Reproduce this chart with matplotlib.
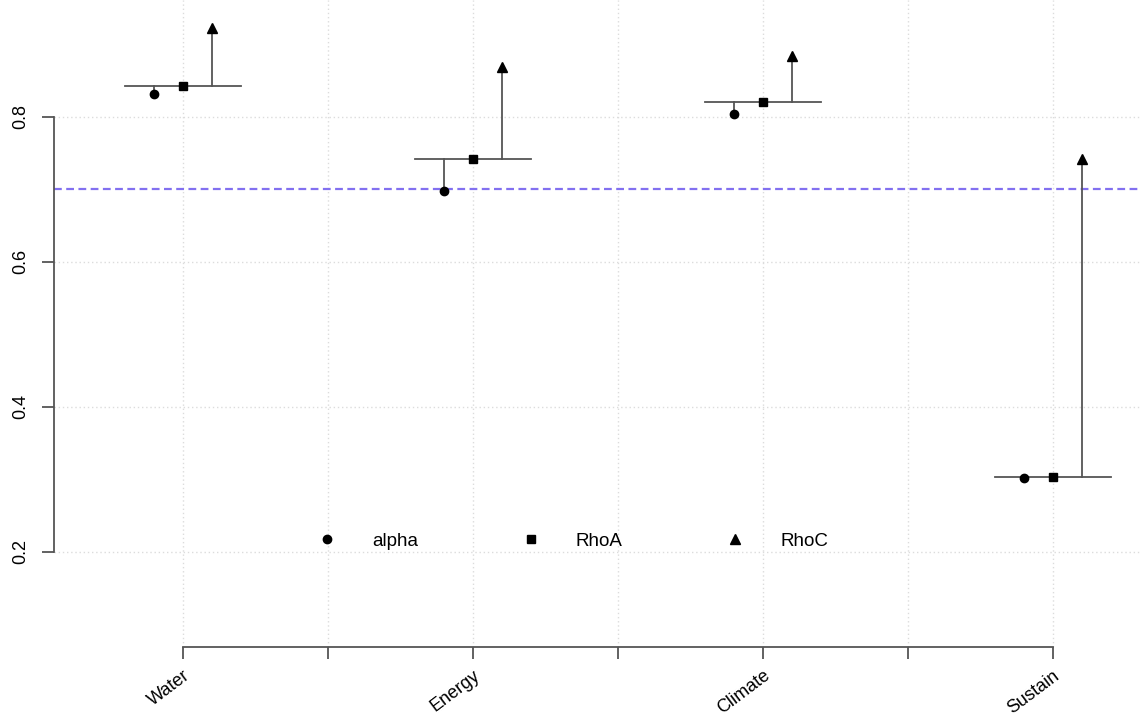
import matplotlib
matplotlib.use("Agg")
import matplotlib.pyplot as plt
import numpy as np

plt.rcParams['font.family'] = ['Liberation Sans', 'DejaVu Sans']

categories = ["Water", "Energy", "Climate", "Sustain"]
alpha = [0.832, 0.698, 0.804, 0.302]
rhoA = [0.843, 0.742, 0.821, 0.304]
rhoC = [0.923, 0.869, 0.884, 0.742]
threshold = 0.70
y_ticks = [0.2, 0.4, 0.6, 0.8]
x_grid = [1, 1.5, 2, 2.5, 3, 3.5, 4]

fig = plt.figure(figsize=(11.4, 7.17), dpi=100)
ax = fig.add_axes([54/1140, 70/717, 1 - 54/1140, 647/717])
ax.set_xlim(0.556, 4.301)
ax.set_ylim(0.069, 0.961)

line_col = "#555555"
grid_col = "#dcdcdc"

# grid
for gx in x_grid:
    ax.axvline(gx, color=grid_col, lw=1, ls=(0, (1, 2)), zorder=0)
for gy in y_ticks:
    ax.axhline(gy, color=grid_col, lw=1, ls=(0, (1, 2)), zorder=0)

ax.axhline(threshold, color="#8270f0", lw=1.6, ls=(0, (3.5, 2)), zorder=1)

xs = np.arange(1, len(categories) + 1)
off = 0.1
half = 0.2
for x, a, ra, rc in zip(xs, alpha, rhoA, rhoC):
    ax.plot([x - half, x + half], [ra, ra], color=line_col, lw=1.3, zorder=2)
    ax.plot([x - off, x - off], [ra, a], color=line_col, lw=1.3, zorder=2)
    ax.plot([x + off, x + off], [ra, rc], color=line_col, lw=1.3, zorder=2)

ax.plot(xs - off, alpha, 'o', color='black', ms=6, ls='none', zorder=3, label='alpha')
ax.plot(xs, rhoA, 's', color='black', ms=6, ls='none', zorder=3, label='RhoA')
ax.plot(xs + off, rhoC, '^', color='black', ms=7, ls='none', zorder=3, label='RhoC')

leg = ax.legend(loc='center left', bbox_to_anchor=(1.434, 0.215), bbox_transform=ax.transData,
                ncol=3, frameon=False, fontsize=13.5, handlelength=2, handletextpad=1.4,
                columnspacing=5.0, borderpad=0, borderaxespad=0)

# axes style
for s in ['top', 'right']:
    ax.spines[s].set_visible(False)
ax.spines['left'].set_bounds(0.2, 0.8)
ax.spines['bottom'].set_bounds(1, 4)
for s in ['left', 'bottom']:
    ax.spines[s].set_color(line_col)
    ax.spines[s].set_linewidth(1.3)

ax.set_yticks(y_ticks)
ax.set_yticklabels([f"{v:.1f}" for v in y_ticks], rotation=90, va='center', fontsize=13)
ax.tick_params(axis='y', length=8.6, width=1.3, color=line_col, pad=9)

ax.set_xticks(x_grid)
labels = []
for gx in x_grid:
    labels.append(categories[int(gx) - 1] if float(gx).is_integer() else "")
ax.set_xticklabels(labels, rotation=37, ha='right', va='top', rotation_mode='anchor', fontsize=13)
ax.tick_params(axis='x', length=8.6, width=1.3, color=line_col, pad=6)

fig.savefig("out.png", dpi=100)
